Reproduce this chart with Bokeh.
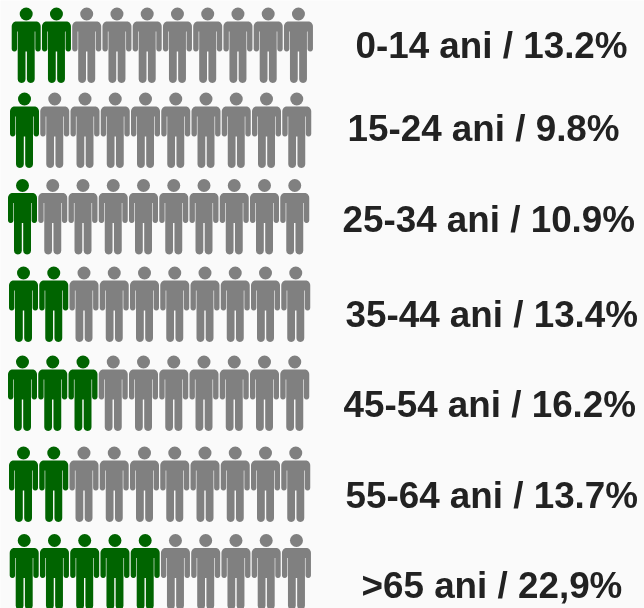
import math
from bokeh.plotting import figure
from bokeh.models import ColumnDataSource
from bokeh.core.properties import value
from bokeh.embed import file_html
from bokeh.resources import INLINE

age_groups = ["0-14 ani", "15-24 ani", "25-34 ani", "35-44 ani", "45-54 ani", "55-64 ani", ">65 ani"]
share_text = ["13.2%", "9.8%", "10.9%", "13.4%", "16.2%", "13.7%", "22,9%"]
green_icons = [2, 1, 1, 2, 3, 2, 5]
TOTAL_ICONS = 10

# layout, in page pixels
row_head_x = [25.7, 24.0, 22.0, 23.0, 22.0, 23.0, 23.7]
row_head_y = [13.5, 98.5, 185.0, 272.5, 361.5, 452.5, 540.0]
label_x = [355, 347, 342, 345, 343, 345, 361]
label_y = [45, 128, 219, 314, 404, 495, 585]
STEP = 30.25
HEAD_R = 6.5
GREEN = "#006400"
GREY = "#808080"
BG = "#fafafa"


def arc(cx, cy, r, a0, a1, n=6):
    return [(cx + r * math.cos(math.radians(a0 + (a1 - a0) * i / n)),
             cy + r * math.sin(math.radians(a0 + (a1 - a0) * i / n))) for i in range(n + 1)]


def person_outline():
    # right half, from the neck centre clockwise to the crotch; y grows downward
    half = [(0, 7.4)]
    half += arc(9.5, 12.4, 5, -90, 0)            # shoulder
    half += arc(11.8, 34.9, 2.7, 0, 180)         # hand
    half += [(9.1, 17.6), (8.5, 17.6)]           # slit beside the torso
    half += arc(4.6, 65.2, 3.9, 0, 180)          # foot
    half += [(0.7, 37.6), (0, 37.6)]
    left = [(-x, y) for x, y in reversed(half)]
    return half + left[1:-1]


OUTLINE = person_outline()

p = figure(width=644, height=608, x_range=(0, 644), y_range=(608, 0),
           output_backend="svg", toolbar_location=None,
           min_border=0, outline_line_color=None,
           background_fill_color=BG, border_fill_color=BG)
p.axis.visible = False
p.grid.visible = False
p.styles = {"position": "fixed", "left": "0px", "top": "0px"}

xs, ys, hx, hy, colors = [], [], [], [], []
for row, n_green in enumerate(green_icons):
    for i in range(TOTAL_ICONS):
        cx = row_head_x[row] + i * STEP
        cy = row_head_y[row]
        xs.append([cx + x for x, _ in OUTLINE])
        ys.append([cy + y for _, y in OUTLINE])
        hx.append(cx)
        hy.append(cy)
        colors.append(GREEN if i < n_green else GREY)

p.patches("xs", "ys", source=ColumnDataSource(dict(xs=xs, ys=ys, color=colors)),
          fill_color="color", line_color=None)
p.circle("x", "y", radius=HEAD_R, source=ColumnDataSource(dict(x=hx, y=hy, color=colors)),
         fill_color="color", line_color=None)

labels = [f"{a} / {s}" for a, s in zip(age_groups, share_text)]
p.text(label_x, label_y, text=labels, text_font=value("Liberation Sans"),
       text_font_style="bold", text_font_size="36.8px", text_color="#222222",
       text_baseline="middle", text_align="left")

open("out.html", "w").write(file_html(p, INLINE))
